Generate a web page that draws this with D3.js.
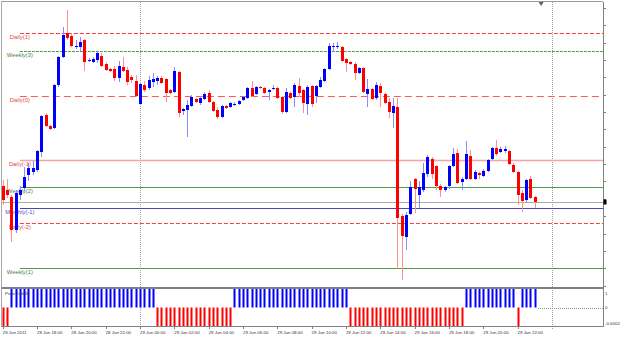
<!DOCTYPE html>
<html>
<head>
  <meta charset="utf-8">
  <script src="https://d3js.org/d3.v7.min.js"></script>
  <style>
    html,
    body {
      margin: 0;
      padding: 0;
      background: #fff;
    }
    svg {
      display: block;
      font-family: "Liberation Sans", Arial, sans-serif;
    }
  </style>
</head>
<body>
  <div id="chart"></div>
  <script>
    // M15 bars, 28 Jun 2011 16:00 .. 29 Jun 2011 23:00
    var opens = [
      1.43420, 1.43400, 1.43365, 1.43200, 1.43375, 1.43410, 1.43475, 1.43490, 1.43500, 1.43590,
      1.43775, 1.43720, 1.43710, 1.43925, 1.44065, 1.44185, 1.44170, 1.44115, 1.44115, 1.44150,
      1.44045, 1.44040, 1.44050, 1.44070, 1.44030, 1.44005, 1.44005, 1.43960, 1.44015, 1.44000,
      1.43965, 1.43945, 1.43830, 1.43925, 1.43910, 1.43940, 1.43945, 1.43960, 1.43955, 1.43900,
      1.43890, 1.43990, 1.43795, 1.43800, 1.43820, 1.43855, 1.43835, 1.43855, 1.43885, 1.43840,
      1.43800, 1.43765, 1.43820, 1.43815, 1.43825, 1.43830, 1.43850, 1.43860, 1.43910, 1.43880,
      1.43915, 1.43910, 1.43890, 1.43905, 1.43910, 1.43865, 1.43790, 1.43885, 1.43865, 1.43920,
      1.43900, 1.43830, 1.43920, 1.43870, 1.43915, 1.43945, 1.44005, 1.44115, 1.44115, 1.44115,
      1.44055, 1.44040, 1.44030, 1.43985, 1.44010, 1.43880, 1.43905, 1.43860, 1.43920, 1.43880,
      1.43840, 1.43785, 1.43815, 1.43270, 1.43165, 1.43280, 1.43455, 1.43375, 1.43400, 1.43480,
      1.43555, 1.43520, 1.43420, 1.43400, 1.43420, 1.43520, 1.43585, 1.43440, 1.43455, 1.43570,
      1.43455, 1.43485, 1.43470, 1.43495, 1.43555, 1.43610, 1.43590, 1.43595, 1.43595, 1.43525,
      1.43490, 1.43385, 1.43350, 1.43455, 1.43365
    ];
    var highs = [
      1.43450, 1.43455, 1.43375, 1.43400, 1.43420, 1.43515, 1.43535, 1.43545, 1.43600, 1.43775,
      1.43785, 1.43725, 1.43930, 1.44070, 1.44215, 1.44300, 1.44185, 1.44150, 1.44165, 1.44155,
      1.44060, 1.44065, 1.44090, 1.44085, 1.44040, 1.44010, 1.44020, 1.44045, 1.44065, 1.44015,
      1.43975, 1.43975, 1.43940, 1.43945, 1.43970, 1.43985, 1.43970, 1.43970, 1.43960, 1.43905,
      1.44015, 1.43995, 1.43810, 1.43850, 1.43875, 1.43860, 1.43870, 1.43890, 1.43900, 1.43845,
      1.43815, 1.43825, 1.43825, 1.43840, 1.43840, 1.43850, 1.43870, 1.43915, 1.43945, 1.43920,
      1.43920, 1.43915, 1.43905, 1.43925, 1.43915, 1.43870, 1.43910, 1.43890, 1.43935, 1.43960,
      1.43905, 1.43925, 1.43925, 1.43925, 1.43965, 1.44010, 1.44135, 1.44135, 1.44140, 1.44120,
      1.44060, 1.44045, 1.44040, 1.44015, 1.44015, 1.43955, 1.43910, 1.43940, 1.43935, 1.43885,
      1.43860, 1.43860, 1.43860, 1.43280, 1.43290, 1.43445, 1.43460, 1.43445, 1.43535, 1.43575,
      1.43565, 1.43525, 1.43430, 1.43420, 1.43525, 1.43610, 1.43605, 1.43465, 1.43645, 1.43600,
      1.43500, 1.43490, 1.43505, 1.43555, 1.43615, 1.43650, 1.43615, 1.43620, 1.43600, 1.43535,
      1.43495, 1.43400, 1.43455, 1.43470, 1.43370
    ];
    var lows = [
      1.43325, 1.43360, 1.43140, 1.43185, 1.43350, 1.43395, 1.43445, 1.43475, 1.43490, 1.43565,
      1.43715, 1.43700, 1.43705, 1.43915, 1.44060, 1.44150, 1.44115, 1.44105, 1.44095, 1.43995,
      1.44040, 1.44035, 1.44035, 1.44015, 1.43995, 1.43990, 1.43945, 1.43940, 1.43990, 1.43925,
      1.43935, 1.43865, 1.43825, 1.43890, 1.43900, 1.43915, 1.43925, 1.43930, 1.43840, 1.43880,
      1.43885, 1.43765, 1.43775, 1.43665, 1.43815, 1.43835, 1.43825, 1.43850, 1.43835, 1.43790,
      1.43755, 1.43760, 1.43805, 1.43810, 1.43820, 1.43825, 1.43845, 1.43855, 1.43865, 1.43875,
      1.43905, 1.43880, 1.43850, 1.43900, 1.43855, 1.43780, 1.43785, 1.43855, 1.43815, 1.43865,
      1.43785, 1.43775, 1.43815, 1.43835, 1.43910, 1.43940, 1.44000, 1.44090, 1.44105, 1.44040,
      1.43990, 1.44025, 1.43950, 1.43980, 1.43885, 1.43815, 1.43850, 1.43850, 1.43815, 1.43830,
      1.43760, 1.43710, 1.43005, 1.42950, 1.43100, 1.43275, 1.43285, 1.43310, 1.43390, 1.43465,
      1.43455, 1.43400, 1.43365, 1.43390, 1.43405, 1.43515, 1.43430, 1.43400, 1.43450, 1.43450,
      1.43450, 1.43455, 1.43465, 1.43490, 1.43550, 1.43570, 1.43585, 1.43585, 1.43525, 1.43485,
      1.43325, 1.43290, 1.43340, 1.43355, 1.43310
    ];
    var closes = [
      1.43350, 1.43375, 1.43200, 1.43385, 1.43400, 1.43465, 1.43510, 1.43510, 1.43595, 1.43770,
      1.43720, 1.43705, 1.43925, 1.44065, 1.44175, 1.44160, 1.44120, 1.44120, 1.44140, 1.44040,
      1.44050, 1.44055, 1.44085, 1.44020, 1.44000, 1.43995, 1.43960, 1.44020, 1.43995, 1.43940,
      1.43950, 1.43870, 1.43930, 1.43900, 1.43950, 1.43955, 1.43960, 1.43935, 1.43885, 1.43885,
      1.43995, 1.43785, 1.43805, 1.43825, 1.43865, 1.43840, 1.43860, 1.43880, 1.43840, 1.43795,
      1.43765, 1.43820, 1.43810, 1.43835, 1.43830, 1.43845, 1.43865, 1.43910, 1.43870, 1.43915,
      1.43910, 1.43885, 1.43900, 1.43910, 1.43860, 1.43790, 1.43890, 1.43860, 1.43925, 1.43885,
      1.43835, 1.43915, 1.43830, 1.43920, 1.43950, 1.44005, 1.44120, 1.44120, 1.44120, 1.44045,
      1.44035, 1.44030, 1.43985, 1.44010, 1.43890, 1.43905, 1.43855, 1.43925, 1.43885, 1.43835,
      1.43790, 1.43820, 1.43260, 1.43170, 1.43275, 1.43415, 1.43405, 1.43415, 1.43485, 1.43565,
      1.43480, 1.43420, 1.43400, 1.43415, 1.43520, 1.43580, 1.43435, 1.43455, 1.43580, 1.43455,
      1.43490, 1.43475, 1.43495, 1.43550, 1.43610, 1.43580, 1.43605, 1.43605, 1.43530, 1.43490,
      1.43375, 1.43345, 1.43450, 1.43360, 1.43340
    ];

    // lower window: pivot direction histogram
    var signal = [
      -1, -1, 1, 1, 1, 1, 1, 1, 1, 1,
      1, 1, 1, 1, 1, 1, 1, 1, 1, 1,
      1, 1, 1, 1, 1, 1, 1, 1, 1, 1,
      1, 1, 1, 1, 1, 1, -1, -1, -1, -1,
      -1, -1, -1, -1, -1, -1, -1, -1, -1, -1,
      -1, -1, -1, -1, 1, 1, 1, 1, 1, 1,
      1, 1, 1, 1, 1, 1, 1, 1, 1, 1,
      1, 1, 1, 1, 1, 1, 1, 1, 1, 1,
      1, -1, -1, -1, -1, -1, -1, -1, -1, -1,
      -1, -1, -1, -1, -1, -1, -1, -1, -1, -1,
      -1, -1, -1, -1, -1, -1, -1, -1, 1, 1,
      1, 1, 1, 1, 1, 1, 1, 1, 1, 1,
      -1, 1, 1, 1, 1
    ];

    // pivot levels
    var pivotNames = ["Daily(1)", "Weekly(3)", "Daily(0)", "Daily(-1)", "Weekly(2)", "Monthly(-1)", "Daily(-2)", "Weekly(1)"];
    var pivotValues = [1.44185, 1.44095, 1.43870, 1.43552, 1.43414, 1.43309, 1.43234, 1.43009];

    // time axis
    var timeLabels = ["28 Jun 2011", "28 Jun 18:00", "28 Jun 20:00", "28 Jun 22:00", "29 Jun 00:00",
      "29 Jun 02:00", "29 Jun 04:00", "29 Jun 06:00", "29 Jun 08:00", "29 Jun 10:00", "29 Jun 12:00",
      "29 Jun 14:00", "29 Jun 16:00", "29 Jun 18:00", "29 Jun 20:00", "29 Jun 22:00"];
    var timeLabelBars = [0, 8, 16, 24, 32, 40, 48, 56, 64, 72, 80, 88, 96, 104, 112, 120];
    var daySeparatorBars = [32, 128];

    // indicator axis
    var indLabels = ["1", "0", "-0.0002"];
    var indLabelValues = [0.78, 0, -0.84];
    var indicatorTitle = "Pivot 0.0046";

    var priceTickStart = 1.429215;
    var priceTickStep = 0.0008685;

    var width = 625;
    var height = 337;
    var plotLeft = 2;
    var plotRight = 603;
    var mainTop = 2;
    var mainBottom = 287;
    var indTop = 289;
    var indBottom = 326;

    var svg = d3.select("#chart")
      .append("svg")
      .attr("width", width)
      .attr("height", height);

    var n = closes.length;

    var x = d3.scaleLinear()
      .domain([0, n - 1])
      .range([2.7, 534.7]);

    var y = d3.scaleLinear()
      .domain([1.42915, 1.44340])
      .range([mainBottom, mainTop]);

    var yi = d3.scaleLinear()
      .domain([-1, 1])
      .range([indBottom, indTop]);

    function px(i) {
      return Math.round(x(i));
    }

    // frame
    svg.append("line")
      .attr("x1", plotLeft).attr("x2", plotRight)
      .attr("y1", 1.5).attr("y2", 1.5)
      .attr("stroke", "#9a9a9a");
    svg.append("line")
      .attr("x1", 1.5).attr("x2", 1.5)
      .attr("y1", 1).attr("y2", indBottom + 1)
      .attr("stroke", "#a8a8a8");

    // day separators
    svg.selectAll(".daysep")
      .data(daySeparatorBars)
      .join("line")
      .attr("x1", d => px(d) + 0.5)
      .attr("x2", d => px(d) + 0.5)
      .attr("y1", mainTop)
      .attr("y2", indBottom + 4)
      .attr("stroke", "#a0a0a0")
      .attr("stroke-dasharray", "1,1");

    // pivot lines
    function pivotStyle(name) {
      if (name == "Daily(1)") return { color: "#ff3c3c", dash: "4,2", w: 1 };
      if (name == "Daily(0)") return { color: "#ff5a5a", dash: "7,4", w: 1 };
      if (name == "Daily(-1)") return { color: "#f5a3a3", dash: null, w: 1.6 };
      if (name == "Daily(-2)") return { color: "#ff3c3c", dash: "4,2", w: 1 };
      if (name == "Weekly(3)") return { color: "#4f9a4f", dash: "3,1", w: 1 };
      if (name == "Monthly(-1)") return { color: "#4848b8", dash: null, w: 1 };
      return { color: "#4f9a4f", dash: null, w: 1 };
    }

    function labelColor(name) {
      if (name.indexOf("Daily") == 0) return "#e04848";
      if (name.indexOf("Weekly") == 0) return "#4d7d4d";
      return "#5050c0";
    }

    pivotNames.forEach(function (name, k) {
      var s = pivotStyle(name);
      var ly = Math.round(y(pivotValues[k])) + 0.5;
      svg.append("line")
        .attr("x1", x(4))
        .attr("x2", plotRight)
        .attr("y1", ly)
        .attr("y2", ly)
        .attr("stroke", s.color)
        .attr("stroke-width", s.w)
        .attr("stroke-dasharray", s.dash);
      svg.append("text")
        .attr("x", x(4))
        .attr("y", ly + 5.5)
        .attr("text-anchor", "middle")
        .attr("font-size", "5.8px")
        .style("fill", labelColor(name))
        .text(name);
    });

    // bid line at last close
    var bidY = Math.round(y(closes[n - 1])) + 0.5;
    svg.append("line")
      .attr("x1", plotLeft).attr("x2", plotRight)
      .attr("y1", bidY).attr("y2", bidY)
      .attr("stroke", "#ababab");

    // candles
    var idx = d3.range(n);
    svg.selectAll(".wick")
      .data(idx)
      .join("line")
      .attr("x1", i => px(i) + 0.5)
      .attr("x2", i => px(i) + 0.5)
      .attr("y1", i => y(highs[i]))
      .attr("y2", i => y(lows[i]))
      .attr("stroke", i => closes[i] >= opens[i] ? "#8c8cff" : "#ff9090");

    svg.selectAll(".body")
      .data(idx)
      .join("rect")
      .attr("x", i => px(i) - 1)
      .attr("width", 3)
      .attr("y", i => y(Math.max(opens[i], closes[i])))
      .attr("height", i => Math.max(1, Math.abs(y(opens[i]) - y(closes[i]))))
      .attr("fill", i => closes[i] >= opens[i] ? "#0000ff" : "#ff0000");

    // separator between windows
    svg.append("line")
      .attr("x1", plotLeft).attr("x2", plotRight)
      .attr("y1", 288).attr("y2", 288)
      .attr("stroke", "#808080")
      .attr("stroke-width", 2);

    // indicator histogram
    svg.selectAll(".hist")
      .data(idx)
      .join("rect")
      .attr("x", i => px(i) - 0.5)
      .attr("width", 2)
      .attr("y", i => Math.min(yi(0), yi(signal[i])))
      .attr("height", i => Math.abs(yi(signal[i]) - yi(0)))
      .attr("fill", i => signal[i] > 0 ? "#0000ff" : "#ff0000");

    // zero level after the last bar
    svg.append("line")
      .attr("x1", px(n - 1) + 3)
      .attr("x2", plotRight)
      .attr("y1", Math.round(yi(0)) + 0.5)
      .attr("y2", Math.round(yi(0)) + 0.5)
      .attr("stroke", "#909090")
      .attr("stroke-dasharray", "1,1");

    svg.append("text")
      .attr("x", 5)
      .attr("y", 295)
      .attr("font-size", "4.4px")
      .style("fill", "#333")
      .text(indicatorTitle);

    // bottom line
    svg.append("line")
      .attr("x1", plotLeft).attr("x2", plotRight)
      .attr("y1", indBottom + 0.5).attr("y2", indBottom + 0.5)
      .attr("stroke", "#808080");

    // right axis
    svg.append("line")
      .attr("x1", plotRight + 0.5).attr("x2", plotRight + 0.5)
      .attr("y1", mainTop).attr("y2", indBottom + 1)
      .attr("stroke", "#808080");

    var priceTicks = d3.range(priceTickStart, 1.4434, priceTickStep);
    svg.selectAll(".ptick")
      .data(priceTicks)
      .join("line")
      .attr("x1", plotRight)
      .attr("x2", plotRight + 3)
      .attr("y1", d => Math.round(y(d)) + 0.5)
      .attr("y2", d => Math.round(y(d)) + 0.5)
      .attr("stroke", "#808080");

    // current price marker
    svg.append("rect")
      .attr("x", plotRight + 0.5)
      .attr("y", y(closes[n - 1]) - 2.5)
      .attr("width", 3)
      .attr("height", 5)
      .attr("fill", "#000");

    // indicator axis labels
    svg.selectAll(".ilabel")
      .data(indLabels)
      .join("text")
      .attr("x", plotRight + 2)
      .attr("y", (d, k) => yi(indLabelValues[k]) + 1.5)
      .attr("font-size", "4.4px")
      .style("fill", "#333")
      .text(d => d);

    // time axis
    svg.selectAll(".ttick")
      .data(timeLabelBars)
      .join("line")
      .attr("x1", d => px(d) + 0.5)
      .attr("x2", d => px(d) + 0.5)
      .attr("y1", indBottom)
      .attr("y2", indBottom + 3)
      .attr("stroke", "#808080");

    svg.selectAll(".tlabel")
      .data(timeLabels)
      .join("text")
      .attr("x", (d, k) => x(timeLabelBars[k]))
      .attr("y", 333.8)
      .attr("font-size", "4.4px")
      .style("fill", "#333")
      .text(d => d);

    // chart shift marker
    var sx = x(125.5);
    svg.append("path")
      .attr("d", "M" + (sx - 2.5) + ",2L" + (sx + 2.5) + ",2L" + sx + ",6Z")
      .attr("fill", "#606060");
  </script>
</body>
</html>
